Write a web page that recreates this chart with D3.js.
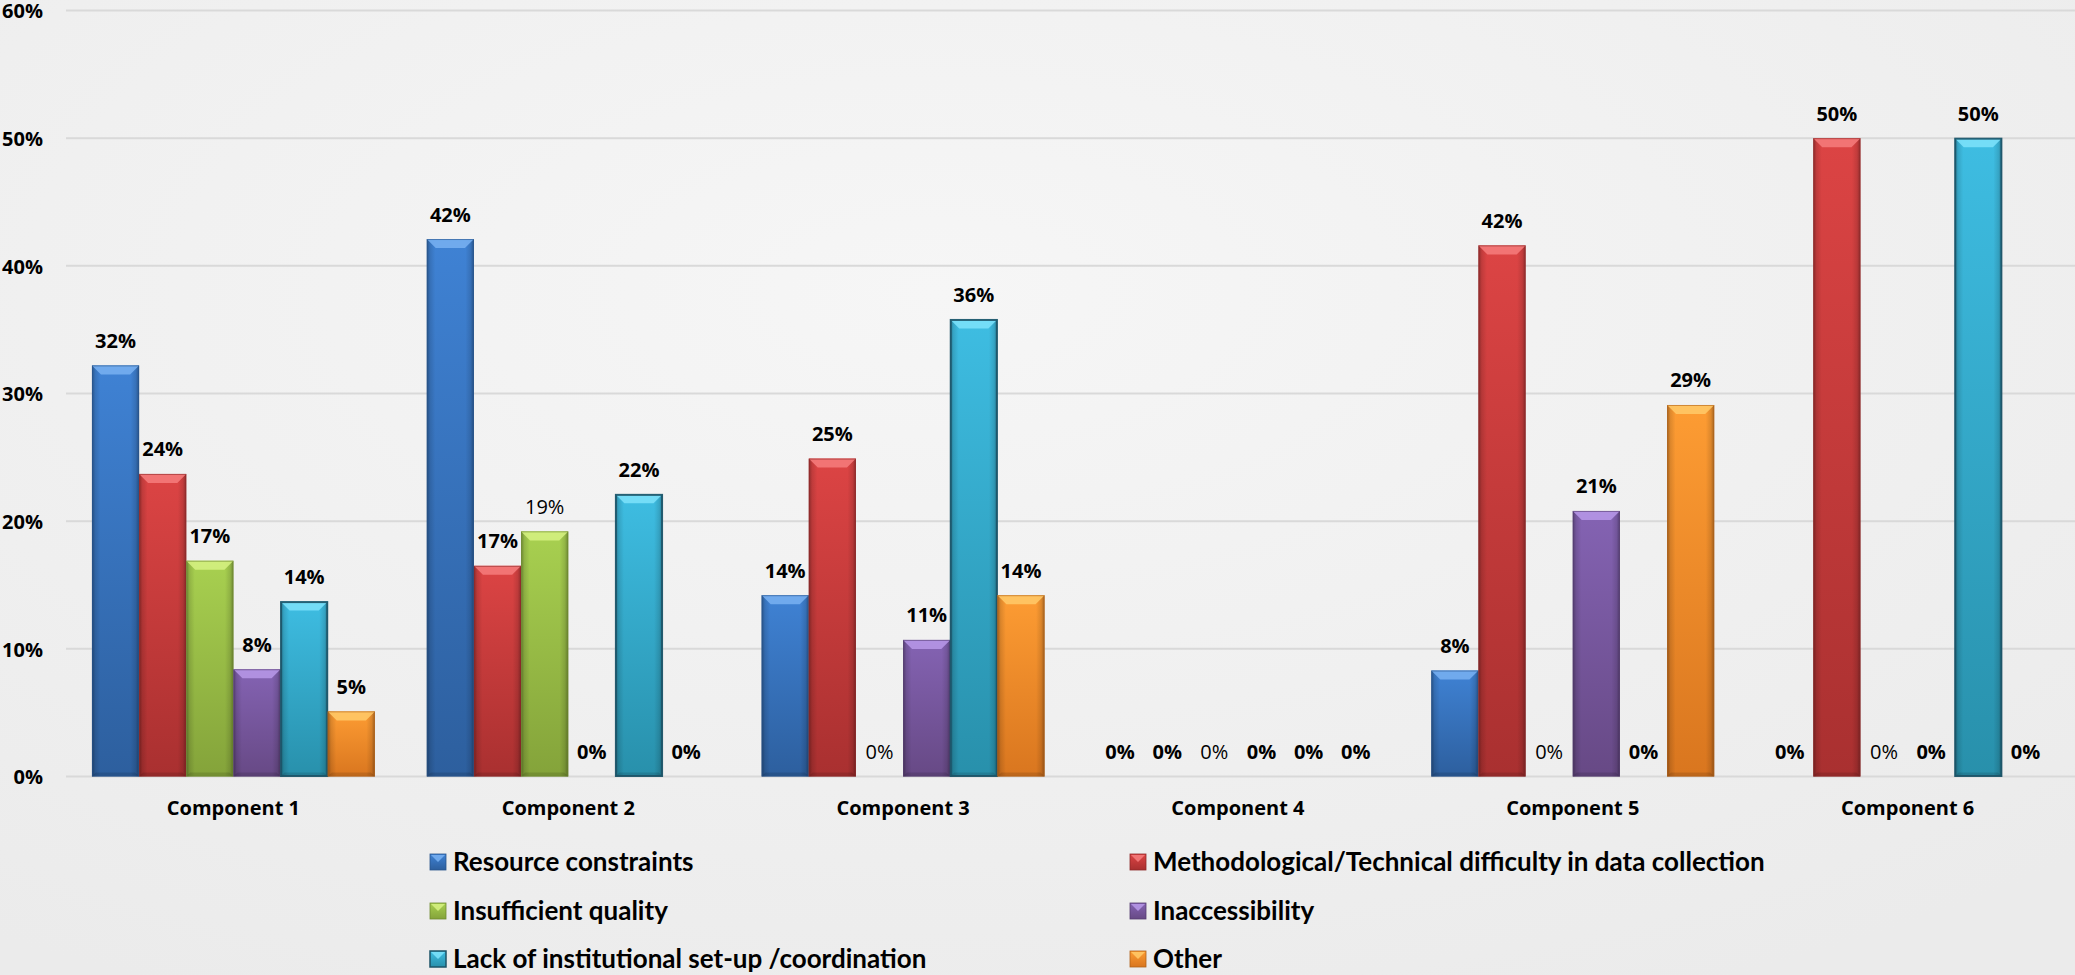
<!DOCTYPE html>
<html>
<head>
<meta charset="utf-8">
<script src="https://cdn.jsdelivr.net/npm/d3@7"></script>
<style>
  html, body { margin: 0; padding: 0; background: #f0f0f0; }
  svg { display: block; }
</style>
</head>
<body>
<div id="chart"></div>
<script>
// ---------------- DATA ----------------
const components = ["Component 1", "Component 2", "Component 3", "Component 4", "Component 5", "Component 6"];
const seriesNames = [
  "Resource constraints",
  "Methodological/Technical difficulty in data collection",
  "Insufficient quality",
  "Inaccessibility",
  "Lack of institutional set-up /coordination",
  "Other"
];
// values per series, one entry per component (fractions)
const resourceConstraints = [0.322, 0.421, 0.142, 0, 0.083, 0];
const methodological      = [0.237, 0.165, 0.249, 0, 0.416, 0.50];
const insufficientQuality = [0.169, 0.192, 0, 0, 0, 0];
const inaccessibility     = [0.084, 0, 0.107, 0, 0.208, 0];
const lackInstitutional   = [0.137, 0.221, 0.358, 0, 0, 0.50];
const other               = [0.051, 0, 0.142, 0, 0.291, 0];
const seriesValues = [resourceConstraints, methodological, insufficientQuality, inaccessibility, lackInstitutional, other];
// value labels shown in regular (not bold) weight: [seriesIndex, componentIndex]
const regularLabels = [[2,1],[2,2],[2,3],[2,4],[2,5]];
const yTicks = [0, 0.1, 0.2, 0.3, 0.4, 0.5, 0.6];

// ---------------- STYLE ----------------
const seriesStyle = [
  { top: "#3f82d4", bottom: "#2d5f9e", bevel: "#76aef0", stroke: "#2a558c" },
  { top: "#dc4444", bottom: "#a93030", bevel: "#f47a7a", stroke: "#8e2a2a" },
  { top: "#a8d050", bottom: "#84a33a", bevel: "#d4f080", stroke: "#6f8a30" },
  { top: "#8463b3", bottom: "#674985", bevel: "#b596e6", stroke: "#553c70" },
  { top: "#3ebde2", bottom: "#2890ab", bevel: "#7ae0fa", stroke: "#1d5367" },
  { top: "#fd9c33", bottom: "#d9761f", bevel: "#ffc866", stroke: "#b0621a" }
];

const W = 2075, H = 975;
const svg = d3.select("#chart").append("svg").attr("width", W).attr("height", H);
const defs = svg.append("defs");

// background
const bg = defs.append("radialGradient").attr("id", "bg").attr("cx", "45%").attr("cy", "30%").attr("r", "80%");
bg.append("stop").attr("offset", "0%").attr("stop-color", "#f6f6f6");
bg.append("stop").attr("offset", "100%").attr("stop-color", "#ebebeb");
svg.append("rect").attr("width", W).attr("height", H).attr("fill", "url(#bg)");

seriesStyle.forEach((s, i) => {
  const g = defs.append("linearGradient").attr("id", "v" + i).attr("x1", 0).attr("y1", 0).attr("x2", 0).attr("y2", 1);
  g.append("stop").attr("offset", "0%").attr("stop-color", s.top);
  g.append("stop").attr("offset", "100%").attr("stop-color", s.bottom);
});
const edge = defs.append("linearGradient").attr("id", "edge").attr("x1", 0).attr("y1", 0).attr("x2", 1).attr("y2", 0);
[[0, 0.35], [0.07, 0.12], [0.18, 0], [0.82, 0], [0.93, 0.12], [1, 0.35]].forEach(([o, a]) =>
  edge.append("stop").attr("offset", o).attr("stop-color", "#000").attr("stop-opacity", a));

// ---------------- SCALES ----------------
const plotLeft = 66, plotRight = 2075;
const y = d3.scaleLinear().domain([0, 0.6]).range([776.5, 10.5]);
const x0 = d3.scaleBand().domain(components).range([plotLeft, plotRight]).paddingInner(0.155).paddingOuter(0.0775);
const x1 = d3.scaleBand().domain(d3.range(seriesNames.length)).range([0, x0.bandwidth()]);
const pct = d3.format(".0%");
const labelFont = "'Open Sans', sans-serif";

// grid
svg.append("g").selectAll("line").data(yTicks).join("line")
  .attr("x1", plotLeft).attr("x2", plotRight)
  .attr("y1", d => y(d)).attr("y2", d => y(d))
  .attr("stroke", "#d9d9d9").attr("stroke-width", 2);

// y axis via d3.axisLeft
const yAxis = svg.append("g").attr("transform", "translate(43,0)")
  .call(d3.axisLeft(y).tickValues(yTicks).tickFormat(pct).tickSize(0).tickPadding(0));
yAxis.select(".domain").remove();
yAxis.selectAll("text")
  .attr("font-family", labelFont).attr("font-weight", "bold")
  .attr("font-size", 20).attr("fill", "#000").attr("dy", "0.36em");

// x axis labels
const xAxis = svg.append("g").attr("transform", "translate(0,776.5)")
  .call(d3.axisBottom(x0).tickSize(0).tickPadding(0));
xAxis.select(".domain").remove();
xAxis.selectAll("text")
  .attr("font-family", labelFont).attr("font-weight", "bold")
  .attr("font-size", 20).attr("fill", "#000").attr("dy", "38.5px").attr("y", 0);

// ---------------- BARS ----------------
const barData = [];
components.forEach((c, ci) => {
  seriesValues.forEach((vals, si) => {
    barData.push({ c, ci, si, v: vals[ci] });
  });
});

const bars = svg.append("g").selectAll("g").data(barData.filter(d => d.v > 0)).join("g")
  .attr("transform", d => `translate(${x0(d.c) + x1(d.si)},${y(d.v)})`);

bars.each(function (d) {
  const g = d3.select(this);
  const w = x1.bandwidth();
  const h = y(0) - y(d.v);
  const s = seriesStyle[d.si];
  const b = Math.min(9, h / 2);
  g.append("rect").attr("width", w).attr("height", h).attr("fill", `url(#v${d.si})`);
  g.append("rect").attr("width", w).attr("height", h).attr("fill", "url(#edge)");
  g.append("polygon")
    .attr("points", `0,0 ${w},0 ${w - b},${b} ${b},${b}`)
    .attr("fill", s.bevel).attr("opacity", 0.9);
  g.append("polygon")
    .attr("points", `0,${h} ${w},${h} ${w - 4},${h - 4} 4,${h - 4}`)
    .attr("fill", "#000").attr("opacity", 0.12);
  g.append("rect").attr("x", 0.5).attr("y", 0.5).attr("width", w - 1).attr("height", h - 1)
    .attr("fill", "none").attr("stroke", s.stroke).attr("stroke-width", d.si === 4 ? 2 : 1)
    .attr("opacity", d.si === 4 ? 0.9 : 0.6);
});

// value labels
const isRegular = d => regularLabels.some(([s, c]) => s === d.si && c === d.ci);
svg.append("g").selectAll("text").data(barData).join("text")
  .attr("x", d => x0(d.c) + x1(d.si) + x1.bandwidth() / 2)
  .attr("y", d => y(d.v) - 17.5)
  .attr("text-anchor", "middle")
  .attr("font-family", labelFont)
  .attr("font-weight", d => isRegular(d) ? "normal" : "bold")
  .attr("font-size", 20).attr("fill", "#000")
  .text(d => pct(d.v));

// ---------------- LEGEND ----------------
const legendCols = [430, 1130];
const legendRows = [871, 920, 968];
const legend = svg.append("g").selectAll("g").data(seriesNames).join("g")
  .attr("transform", (d, i) => `translate(${legendCols[i % 2]},${legendRows[Math.floor(i / 2)]})`);
legend.each(function (d, i) {
  const g = d3.select(this);
  const s = seriesStyle[i];
  const sz = 16;
  g.append("rect").attr("x", 0).attr("y", -sz - 1).attr("width", sz).attr("height", sz)
    .attr("fill", `url(#v${i})`).attr("stroke", s.stroke).attr("stroke-width", i === 4 ? 1.5 : 0.8);
  g.append("polygon")
    .attr("points", `1,${-sz} ${sz - 1},${-sz} ${sz / 2},${-sz / 2 - 1}`)
    .attr("fill", s.bevel).attr("opacity", 0.9);
  g.append("text").attr("x", 23).attr("y", 0)
    .attr("font-family", "Lato, 'Open Sans', sans-serif").attr("font-weight", "bold")
    .attr("font-size", 26).attr("fill", "#000").text(d);
});
</script>
</body>
</html>
